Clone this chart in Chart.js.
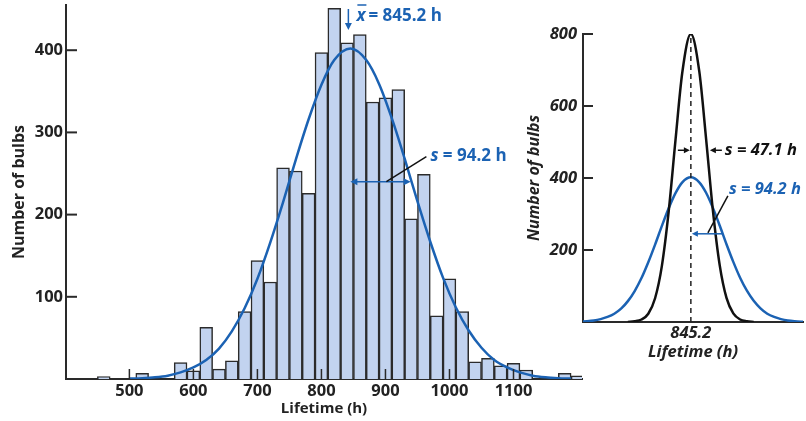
<!DOCTYPE html>
<html>
<head>
<meta charset="utf-8">
<script src="https://cdn.jsdelivr.net/npm/chart.js@4.4.0/dist/chart.umd.min.js"></script>
<style>
  html, body { margin: 0; padding: 0; background: #fff; }
  #wrap { position: relative; width: 806px; height: 421px; }
  #histo { position: absolute; left: 0; top: 0; }
  #compare { position: absolute; left: 520px; top: 0; }
</style>
</head>
<body>
<div id="wrap">
  <canvas id="histo" width="592" height="421"></canvas>
  <canvas id="compare" width="286" height="421"></canvas>
</div>
<script>
// histogram bins (center of each 20 h bin) and counts
const binCenters = [460, 520, 580, 600, 620, 640, 660, 680, 700, 720, 740, 760, 780, 800, 820, 840, 860,
                    880, 900, 920, 940, 960, 980, 1000, 1020, 1040, 1060, 1080, 1100, 1120, 1180, 1200];
const bulbCounts = [3, 7, 20, 10, 63, 12, 22, 82, 144, 118, 257, 253, 226, 397, 451, 409, 419,
                    337, 342, 352, 195, 249, 77, 122, 82, 21, 25, 16, 19, 11, 7, 4];

// blue fitted curve (s = 94.2 h)
const curveHours = [500, 520, 540, 560, 580, 600, 620, 640, 660, 680, 700, 720, 740, 760, 780, 800, 820, 845.2,
                    870, 890, 910, 930, 950, 970, 990, 1010, 1030, 1050, 1070, 1090, 1110, 1130, 1150, 1170, 1190];
const curveBulbs = [0.5, 1, 2, 4, 8, 14, 23, 37, 58, 86, 122, 166, 215, 267, 316, 358, 388, 402,
                    388, 359, 317, 268, 216, 167, 123, 87, 59, 38, 23, 14, 8, 4, 2, 1, 0.5];

// black narrow curve (s = 47.1 h)
const narrowHours = [660, 680, 700, 720, 740, 760, 780, 800, 820, 845.2, 870, 890, 910, 930, 950, 970, 990, 1010, 1030];
const narrowBulbs = [0, 2, 7, 23, 66, 156, 307, 505, 693, 800, 696, 509, 310, 158, 67, 24, 7, 2, 0];

const meanHours = 845.2;
const sdHours = 94.2;
const narrowSdHours = 47.1;
const histoHourTicks = [500, 600, 700, 800, 900, 1000, 1100];
const histoBulbTicks = [100, 200, 300, 400];
const compareTicks = [200, 400, 600, 800];

const blue = '#1b62b3';
const axisColor = '#2a2a2a';
const textColor = '#222';
const fam = '"Open Sans", sans-serif';

function arrowHead(ctx, x, y, dir, size) {
  const w = size * 0.5;
  ctx.beginPath();
  if (dir === 'left') { ctx.moveTo(x, y); ctx.lineTo(x + size, y - w); ctx.lineTo(x + size, y + w); }
  else if (dir === 'right') { ctx.moveTo(x, y); ctx.lineTo(x - size, y - w); ctx.lineTo(x - size, y + w); }
  else { ctx.moveTo(x, y); ctx.lineTo(x - w, y - size); ctx.lineTo(x + w, y - size); }
  ctx.closePath();
  ctx.fill();
}

function line(ctx, x1, y1, x2, y2) {
  ctx.beginPath(); ctx.moveTo(x1, y1); ctx.lineTo(x2, y2); ctx.stroke();
}

// labels, arrows and inward ticks on the histogram
const histoNotes = {
  id: 'histoNotes',
  afterDraw(chart) {
    const { ctx, chartArea, scales: { x, y } } = chart;
    ctx.save();
    ctx.strokeStyle = axisColor;
    ctx.lineWidth = 1.5;
    histoHourTicks.forEach(v => {
      const px = x.getPixelForValue(v);
      line(ctx, px, chartArea.bottom, px, chartArea.bottom - 10);
    });
    ctx.lineWidth = 2;
    histoBulbTicks.forEach(v => {
      const py = y.getPixelForValue(v);
      line(ctx, chartArea.left, py, chartArea.left + 11, py);
    });

    const xm = x.getPixelForValue(meanHours);
    ctx.lineWidth = 1.5;
    ctx.strokeStyle = blue;
    ctx.fillStyle = blue;
    // mean arrow + label
    const ax = xm - 2;
    line(ctx, ax, 9, ax, 24);
    arrowHead(ctx, ax, 30, 'down', 7);
    ctx.textBaseline = 'middle';
    ctx.font = 'italic bold 17px ' + fam;
    const tx = xm + 6;
    ctx.fillText('x', tx, 16);
    const wx = ctx.measureText('x').width;
    line(ctx, tx + 1, 5, tx + wx + 1, 5);
    ctx.font = 'bold 17px ' + fam;
    ctx.fillText('= ' + meanHours.toFixed(1) + ' h', tx + wx + 3, 16);

    // s arrow
    const ys = y.getPixelForValue(240);
    const xe = x.getPixelForValue(meanHours + sdHours);
    line(ctx, xm + 4, ys, xe - 4, ys);
    arrowHead(ctx, xm, ys, 'left', 7);
    arrowHead(ctx, xe, ys, 'right', 7);
    ctx.strokeStyle = '#111';
    line(ctx, xm + 36, ys, xm + 76, ys - 25);
    ctx.font = 'italic bold 17px ' + fam;
    ctx.fillText('s', xm + 80, ys - 26);
    const ws = ctx.measureText('s').width;
    ctx.font = 'bold 17px ' + fam;
    ctx.fillText(' = ' + sdHours.toFixed(1) + ' h', xm + 80 + ws, ys - 26);
    ctx.restore();
  }
};

new Chart(document.getElementById('histo'), {
  type: 'bar',
  data: {
    datasets: [
      {
        type: 'line',
        data: curveHours.map((h, i) => ({ x: h, y: curveBulbs[i] })),
        borderColor: blue,
        borderWidth: 2.5,
        pointRadius: 0,
        cubicInterpolationMode: 'monotone'
      },
      {
        type: 'bar',
        data: binCenters.map((h, i) => ({ x: h, y: bulbCounts[i] })),
        backgroundColor: '#c2d3ef',
        borderColor: '#2b2b2b',
        borderWidth: 1.5,
        barPercentage: 1,
        categoryPercentage: 1
      }
    ]
  },
  options: {
    responsive: false,
    animation: false,
    layout: { padding: { top: 5, right: 10, bottom: 3, left: 0 } },
    plugins: { legend: { display: false }, tooltip: { enabled: false } },
    scales: {
      x: {
        type: 'linear', min: 401, max: 1207, offset: false,
        grid: { display: false, drawTicks: false },
        border: { display: true, color: axisColor, width: 2 },
        afterBuildTicks: s => { s.ticks = histoHourTicks.map(v => ({ value: v })); },
        ticks: {
          autoSkip: false, maxRotation: 0, padding: 2,
          color: textColor, font: { family: fam, size: 16.5, weight: 'bold' },
          callback: v => String(v)
        },
        title: { display: true, text: 'Lifetime (h)', color: textColor, padding: 0,
                 font: { family: fam, size: 15, weight: 'bold' } },
        afterFit: s => { s.height = 39; s.paddingLeft = 0; s.paddingRight = 0; }
      },
      y: {
        min: 0, max: 455,
        grid: { display: false, drawTicks: false },
        border: { display: true, color: axisColor, width: 2 },
        afterBuildTicks: s => { s.ticks = histoBulbTicks.map(v => ({ value: v })); },
        ticks: {
          padding: 3,
          color: textColor, font: { family: fam, size: 16.5, weight: 'bold' },
          callback: v => String(v)
        },
        title: { display: true, text: 'Number of bulbs', color: textColor, padding: { top: 10, bottom: 0 },
                 font: { family: fam, size: 16, weight: 'bold' } },
        afterFit: s => { s.width = 66; s.paddingTop = 0; s.paddingBottom = 0; }
      }
    }
  },
  plugins: [histoNotes]
});

// arrows, labels and inward ticks on the comparison panel
const compareNotes = {
  id: 'compareNotes',
  afterDraw(chart) {
    const { ctx, chartArea, scales: { x, y } } = chart;
    ctx.save();
    ctx.strokeStyle = axisColor;
    ctx.fillStyle = '#111';
    ctx.lineWidth = 2;
    compareTicks.forEach(v => {
      const py = y.getPixelForValue(v);
      line(ctx, chartArea.left, py, chartArea.left + 10, py);
    });

    const xm = x.getPixelForValue(meanHours);
    ctx.lineWidth = 1.5;
    ctx.strokeStyle = '#111';
    // black s
    const yb = y.getPixelForValue(477);
    line(ctx, xm - 13, yb, xm - 6, yb);
    arrowHead(ctx, xm - 1, yb, 'right', 6);
    const xs = x.getPixelForValue(meanHours + narrowSdHours);
    arrowHead(ctx, xs + 3, yb, 'left', 6);
    line(ctx, xs + 8, yb, xs + 15, yb);
    ctx.textBaseline = 'middle';
    ctx.font = 'italic bold 16.5px ' + fam;
    ctx.fillText('s = ' + narrowSdHours.toFixed(1) + ' h', xs + 18, yb);

    // blue s
    const yB = y.getPixelForValue(245);
    const xw = x.getPixelForValue(meanHours + sdHours);
    line(ctx, xw - 15, yB - 1, xw + 5, yB - 38);
    ctx.strokeStyle = blue;
    ctx.fillStyle = blue;
    line(ctx, xm + 6, yB, xw, yB);
    arrowHead(ctx, xm + 1, yB, 'left', 6);
    ctx.fillText('s = ' + sdHours.toFixed(1) + ' h', xw + 6, yB - 45);
    ctx.restore();
  }
};

new Chart(document.getElementById('compare'), {
  type: 'line',
  data: {
    datasets: [
      {
        data: [{ x: meanHours, y: 0 }, { x: meanHours, y: 800 }],
        borderColor: '#222', borderWidth: 1.5, borderDash: [5, 4], pointRadius: 0
      },
      {
        data: narrowHours.map((h, i) => ({ x: h, y: narrowBulbs[i] })),
        borderColor: '#111', borderWidth: 2.5, pointRadius: 0, cubicInterpolationMode: 'monotone'
      },
      {
        data: curveHours.map((h, i) => ({ x: h, y: curveBulbs[i] })),
        borderColor: blue, borderWidth: 2.5, pointRadius: 0, cubicInterpolationMode: 'monotone'
      }
    ]
  },
  options: {
    responsive: false,
    animation: false,
    layout: { padding: { top: 34, right: 3, bottom: 59, left: 0 } },
    plugins: { legend: { display: false }, tooltip: { enabled: false } },
    scales: {
      x: {
        type: 'linear', min: 528, max: 1175,
        grid: { display: false, drawTicks: false },
        border: { display: true, color: axisColor, width: 2 },
        afterBuildTicks: s => { s.ticks = [{ value: meanHours }]; },
        ticks: { padding: 1, color: textColor, maxRotation: 0,
                 font: { family: fam, size: 16.5, weight: 'bold', style: 'italic' },
                 callback: v => v.toFixed(1) },
        title: { display: true, text: 'Lifetime (h)', color: textColor, padding: 0,
                 font: { family: fam, size: 16.5, weight: 'bold', style: 'italic' } },
        afterFit: s => { s.height = 40; }
      },
      y: {
        min: 0, max: 800,
        grid: { display: false, drawTicks: false },
        border: { display: true, color: axisColor, width: 2 },
        afterBuildTicks: s => { s.ticks = compareTicks.map(v => ({ value: v })); },
        ticks: { padding: 6, color: textColor,
                 font: { family: fam, size: 16.5, weight: 'bold', style: 'italic' },
                 callback: v => String(v) },
        title: { display: true, text: 'Number of bulbs', color: textColor, padding: { top: 5, bottom: 0 },
                 font: { family: fam, size: 16, weight: 'bold', style: 'italic' } },
        afterFit: s => { s.width = 63; }
      }
    }
  },
  plugins: [compareNotes]
});
</script>
</body>
</html>
